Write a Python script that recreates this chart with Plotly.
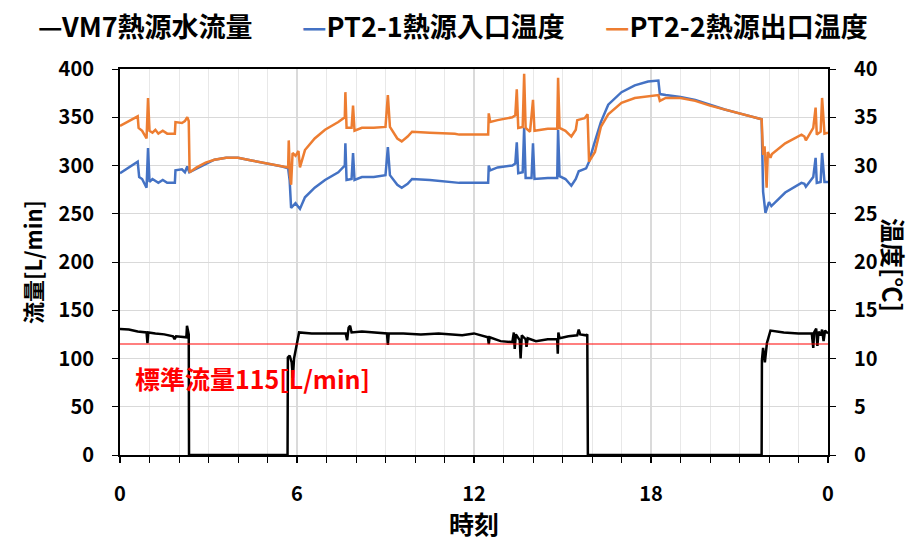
import plotly.graph_objects as go

# ---------------- data ----------------
flow_t = [0, 0.3, 0.6, 0.9, 0.93, 0.96, 1.2, 1.5, 1.8, 1.85, 1.9, 2.1, 2.25, 2.27, 2.33, 2.34,
          5.68, 5.69, 5.75, 5.82, 5.86, 5.9, 6.0, 6.07, 6.5, 7.0, 7.65, 7.7, 7.75, 7.8, 7.85, 8.2,
          8.6, 9.05, 9.08, 9.11, 9.6, 10.2, 10.8, 11.3, 11.6, 12.0, 12.4, 12.47, 12.5, 12.53, 12.9,
          13.3, 13.35, 13.38, 13.42, 13.55, 13.58, 13.62, 13.75, 13.78, 13.82, 14.1, 14.5, 14.82,
          14.84, 14.86, 14.9, 15.2, 15.5, 15.55, 15.6, 15.8, 15.84, 15.86,
          21.75, 21.76, 21.8, 21.86, 21.93, 22.05, 22.5, 23.0, 23.45, 23.5, 23.53, 23.6, 23.64,
          23.68, 23.75, 23.8, 23.85, 23.9, 24.0]
flow_v = [130.5, 130, 128, 127, 116, 127, 126, 125, 123, 120, 123, 122, 122, 134, 125, 0,
          0, 101, 103, 96, 80, 100, 118, 127, 126, 126, 126, 119, 132, 134, 127, 128,
          127, 126, 114, 126, 126, 125, 126, 125, 124, 126, 122, 122, 115, 122, 118,
          117, 127, 110, 125, 119, 100, 124, 120, 112, 121, 118, 120, 120,
          105, 127, 121, 123, 124, 130, 125, 124, 125, 0,
          0, 98, 111, 96, 116, 129, 127, 126, 126, 111, 127, 131, 113,
          128, 124, 130, 118, 129, 126]

inlet_t = [0, 0.3, 0.6, 0.65, 0.75, 0.9, 0.95, 1.0, 1.1, 1.3, 1.45, 1.6, 1.86, 1.88, 2.1, 2.2,
           2.28, 2.35, 2.6, 2.9, 3.2, 3.6, 4.0, 4.5, 5.0, 5.5, 5.7, 5.75, 5.8, 5.95, 6.1, 6.27,
           6.6, 6.95, 7.4, 7.62, 7.64, 7.68, 7.85, 7.9, 7.95, 8.2, 8.6, 9.0, 9.08, 9.15, 9.4,
           9.55, 9.75, 9.9, 10.5, 11.35, 11.5, 12.48, 12.5, 12.55, 12.8, 13.3, 13.4, 13.45,
           13.5, 13.65, 13.7, 13.75, 13.95, 14.0, 14.05, 14.5, 14.82, 14.85, 14.9, 15.1, 15.3,
           15.45, 15.55, 15.8, 15.9, 16.05, 16.3, 16.55, 17.0, 17.45, 17.9, 18.25, 18.3, 18.5,
           19.0, 19.5, 20.0, 20.5, 21.0, 21.5, 21.75, 21.8, 21.88, 22.0, 22.08, 22.55, 23.1,
           23.2, 23.25, 23.5, 23.58, 23.62, 23.75, 23.8, 23.88, 24.0]
inlet_v = [29.2, 29.8, 30.4, 28.8, 28.6, 27.7, 31.8, 28.3, 28.6, 28.2, 28.5, 28.2, 28.2, 29.5, 29.6, 29.3,
           29.9, 29.3, 29.7, 30.2, 30.6, 30.8, 30.8, 30.5, 30.2, 29.9, 29.7, 28.5, 25.6, 26.1, 25.5, 26.7,
           27.7, 28.5, 29.3, 30.0, 32.3, 28.5, 28.6, 31.3, 28.5, 28.8, 28.8, 29.0, 31.9, 29.0, 28.0,
           27.7, 28.1, 28.6, 28.5, 28.3, 28.2, 28.2, 30.0, 29.5, 29.8, 30.0, 30.2, 32.4,
           29.2, 29.3, 33.9, 28.7, 28.7, 32.3, 28.6, 28.7, 28.7, 33.7, 28.9, 28.6, 27.9,
           28.6, 29.4, 29.7, 30.4, 32.0, 34.5, 36.3, 37.6, 38.3, 38.7, 38.8, 37.4, 37.3,
           37.1, 36.8, 36.3, 35.8, 35.4, 35.0, 34.8, 27.3, 25.1, 26.2, 25.8, 27.2, 28.2,
           28.1, 27.8, 28.8, 30.8, 28.2, 28.3, 31.3, 28.3, 28.3]

outlet_t = [0, 0.3, 0.6, 0.63, 0.75, 0.9, 0.95, 1.0, 1.1, 1.2, 1.3, 1.45, 1.6, 1.86, 1.88, 2.1,
            2.2, 2.28, 2.33, 2.36, 2.6, 2.9, 3.2, 3.6, 4.0, 4.5, 5.0, 5.5, 5.7, 5.72, 5.76, 5.8,
            5.85, 5.95, 6.05, 6.1, 6.27, 6.6, 6.95, 7.4, 7.62, 7.64, 7.68, 7.85, 7.9, 7.95, 8.2,
            8.6, 9.0, 9.08, 9.15, 9.4, 9.55, 9.75, 9.9, 10.5, 11.35, 11.5, 12.48, 12.5, 12.55,
            12.8, 13.3, 13.4, 13.45, 13.5, 13.65, 13.7, 13.75, 13.9, 14.0, 14.05, 14.5, 14.82,
            14.85, 14.9, 15.1, 15.3, 15.45, 15.5, 15.75, 15.85, 15.9, 16.1, 16.3, 16.55, 17.0,
            17.45, 17.9, 18.25, 18.3, 18.5, 19.0, 19.5, 20.0, 20.5, 21.0, 21.5, 21.75, 21.8,
            21.85, 21.92, 21.96, 22.05, 22.1, 22.55, 23.1, 23.2, 23.25, 23.5, 23.58, 23.62,
            23.75, 23.8, 23.88, 24.0]
outlet_v = [34.1, 34.6, 35.1, 33.9, 33.6, 32.8, 37.0, 33.6, 33.4, 33.7, 33.3, 33.6, 33.3, 33.3, 34.5, 34.4,
            34.6, 35.0, 34.6, 29.3, 29.8, 30.3, 30.6, 30.8, 30.8, 30.5, 30.2, 29.9, 29.8, 32.6, 29.0, 28.0,
            31.3, 31.0, 31.5, 29.8, 31.6, 32.8, 33.7, 34.5, 35.0, 37.6, 33.9, 33.9, 36.2, 33.6, 33.9,
            33.9, 34.0, 37.3, 34.0, 32.8, 32.5, 33.0, 33.5, 33.4, 33.3, 33.2, 33.2, 35.4, 34.5,
            34.7, 35.0, 35.2, 37.9, 33.9, 34.0, 39.5, 33.9, 33.5, 36.8, 33.6, 33.8, 33.8,
            39.1, 33.9, 33.6, 33.0, 33.7, 34.7, 34.9, 35.3, 30.4, 31.4, 34.0, 35.3, 36.5,
            37.0, 37.2, 37.3, 36.7, 37.0, 37.0, 36.7, 36.2, 35.8, 35.4, 35.0, 34.8, 31.1,
            32.0, 27.7, 31.4, 30.8, 31.2, 32.3, 33.2, 33.0, 32.6, 33.9, 36.0, 33.2,
            33.5, 37.0, 33.3, 33.4]

STANDARD_FLOW = 115
x_tickvals = [0, 6, 12, 18, 24]
x_ticktext = ["0", "6", "12", "18", "0"]

series_names = ["VM7熱源水流量", "PT2-1熱源入口温度", "PT2-2熱源出口温度"]
series_colors = ["black", "#4472C4", "#ED7D31"]
# ----------------------------------------------------------------

FONT = "Noto Sans CJK JP"
TICK = dict(family=FONT, size=20, color="black", weight="bold")
LEG = dict(family=FONT, size=27, color="black", weight="bold")
XTITLE = dict(family=FONT, size=25, color="black", weight="bold")
YTITLE = dict(family=FONT, size=22, color="black", weight="bold")
Y2TITLE = dict(family=FONT, size=25, color="black", weight="bold")

L, R, T, B = 120, 92, 69, 86
W, H = 920, 541
plot_w = W - L - R
plot_h = H - T - B


def px_x(px):
    return (px - L) / plot_w


def px_y(py):
    return (H - B - py) / plot_h


fig = go.Figure()
fig.add_trace(go.Scatter(x=flow_t, y=flow_v, mode="lines", name=series_names[0],
                         line=dict(color=series_colors[0], width=2.5), yaxis="y"))
fig.add_trace(go.Scatter(x=[0, 24], y=[STANDARD_FLOW, STANDARD_FLOW], mode="lines",
                         name="標準流量", line=dict(color="#ff0000", width=1.2), yaxis="y",
                         hoverinfo="skip"))
fig.add_trace(go.Scatter(x=inlet_t, y=inlet_v, mode="lines", name=series_names[1],
                         line=dict(color=series_colors[1], width=2.5), yaxis="y2"))
fig.add_trace(go.Scatter(x=outlet_t, y=outlet_v, mode="lines", name=series_names[2],
                         line=dict(color=series_colors[2], width=2.5), yaxis="y2"))

# legend drawn as text (one row, like the reference)
legend_left_px = [36, 300, 603]
legend_anns = []
for name, col, lx in zip(series_names, series_colors, legend_left_px):
    legend_anns.append(dict(
        text=f"<span style='color:{col}'>—</span>{name}",
        x=px_x(lx), y=px_y(25), xref="paper", yref="paper",
        xanchor="left", yanchor="middle", showarrow=False, font=LEG))

fig.update_layout(
    width=W, height=H,
    margin=dict(l=L, r=R, t=T, b=B, autoexpand=False),
    paper_bgcolor="white", plot_bgcolor="white",
    font=TICK,
    showlegend=False,
    xaxis=dict(range=[0, 24], tickmode="array", tickvals=x_tickvals, ticktext=x_ticktext,
               tickfont=TICK, showline=True, linecolor="black", linewidth=2, mirror=True,
               ticks="outside", ticklen=6, tickcolor="black", tickwidth=1.5,
               showgrid=True, gridcolor="#dadada", gridwidth=1.5, zeroline=False,
               minor=dict(dtick=1, tick0=0, showgrid=True, gridcolor="#e8e8e8", gridwidth=1,
                          ticks="outside", ticklen=6, tickcolor="black", tickwidth=1.2),
               ticklabelstandoff=14,
               title=dict(text="時刻", font=XTITLE, standoff=6)),
    yaxis=dict(range=[0, 400], dtick=50, tickfont=TICK, showline=True, linecolor="black",
               linewidth=2, ticks="outside", ticklen=6, tickcolor="black", tickwidth=1.2,
               showgrid=True, gridcolor="#d9d9d9", gridwidth=1.2, zeroline=False,
               ticklabelstandoff=14,
               title=dict(text="流量[L/min]", font=YTITLE, standoff=10)),
    yaxis2=dict(range=[0, 40], dtick=5, overlaying="y", side="right", tickfont=TICK,
                showline=True, linecolor="black", linewidth=2, ticks="outside", ticklen=6,
                tickcolor="black", tickwidth=1.2, showgrid=False, zeroline=False,
                ticklabelstandoff=14),
    annotations=legend_anns + [
        dict(text="標準流量115[L/min]", x=0.45, y=80, xref="x", yref="y", xanchor="left",
             yanchor="middle", showarrow=False,
             font=dict(family=FONT, size=25, color="#ff0000", weight="bold")),
        dict(text="温度[℃]", x=px_x(894), y=px_y(265),
             xref="paper", yref="paper", xanchor="center", yanchor="middle",
             showarrow=False, textangle=90, font=Y2TITLE),
    ],
)

fig.write_html("out.html")
